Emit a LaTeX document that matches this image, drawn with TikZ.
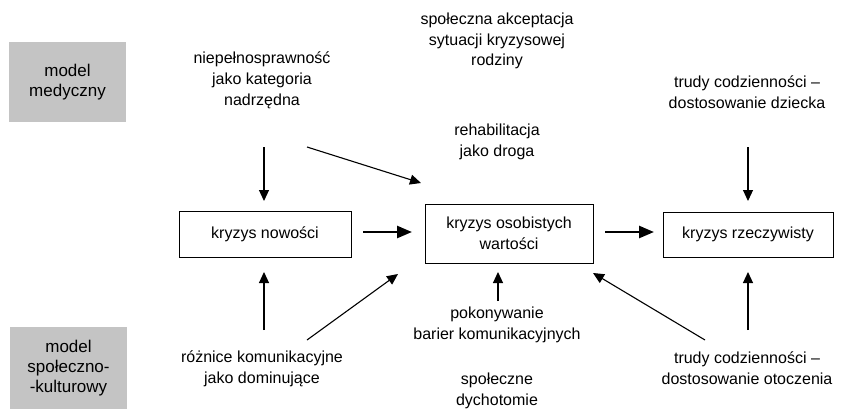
\documentclass[tikz,border=0pt]{standalone}
\usepackage{fontspec}
\setmainfont{Liberation Sans}
\usetikzlibrary{arrows.meta}
\definecolor{modelgray}{HTML}{C4C4C4}
\tikzset{
  lbl/.style={align=center,font=\fontsize{16}{20.8}\selectfont,inner sep=0pt},
  crisis/.style={draw=black,line width=0.9pt,fill=white,align=center,font=\fontsize{16}{20.8}\selectfont,inner sep=0pt},
  model/.style={fill=modelgray,align=center,font=\fontsize{17}{19.8}\selectfont,inner sep=0pt},
  thin arrow/.style={line width=1.1pt,-{Triangle[length=11pt,width=10pt]}},
  thick arrow/.style={line width=2.5pt,-{Triangle[length=15pt,width=12pt]}}
}
\begin{document}
\begin{tikzpicture}[x=1pt,y=-1pt]
\useasboundingbox (0,0) rectangle (841,408);
% model boxes
\node[model,minimum width=117pt,minimum height=80pt] (mmed) at (67.5,82) {model\\medyczny};
\node[model,minimum width=117pt,minimum height=82pt] (mspol) at (68.5,368) {model\\społeczno-\\-kulturowy};
% crisis boxes
\node[crisis,minimum width=172pt,minimum height=46pt] (know) at (265,234) {kryzys nowości};
\node[crisis,minimum width=168pt,minimum height=59pt] (kosob) at (509,233.5) {kryzys osobistych\\wartości};
\node[crisis,minimum width=170pt,minimum height=45pt] (krzecz) at (748,234.5) {kryzys rzeczywisty};
% labels
\node[lbl] (niep) at (262,80) {niepełnosprawność\\jako kategoria\\nadrzędna};
\node[lbl] (akc) at (497,41) {społeczna akceptacja\\sytuacji kryzysowej\\rodziny};
\node[lbl] (reh) at (497,142) {rehabilitacja\\jako droga};
\node[lbl] (trd) at (747,92) {trudy codzienności –\\dostosowanie dziecka};
\node[lbl] (pok) at (497,325) {pokonywanie\\barier komunikacyjnych};
\node[lbl] (dych) at (497,390.5) {społeczne\\dychotomie};
\node[lbl] (roz) at (262,368.5) {różnice komunikacyjne\\jako dominujące};
\node[lbl] (tro) at (747,368.5) {trudy codzienności –\\dostosowanie otoczenia};
% arrow end points
\coordinate (a1s) at (264,147); \coordinate (a1e) at (264,201);
\coordinate (a2s) at (307,147); \coordinate (a2e) at (421,183);
\coordinate (a3s) at (748,147); \coordinate (a3e) at (748,201);
\coordinate (a4s) at (264,330); \coordinate (a4e) at (264,272);
\coordinate (a5s) at (307,340); \coordinate (a5e) at (398,274);
\coordinate (a6s) at (498,301); \coordinate (a6e) at (498,272);
\coordinate (a7s) at (705,340); \coordinate (a7e) at (593,273);
\coordinate (a8s) at (748,330); \coordinate (a8e) at (748,272);
\coordinate (a9s) at (363,232); \coordinate (a9e) at (412,232);
\coordinate (a10s) at (605,232); \coordinate (a10e) at (654,232);
\draw[thin arrow] (a1s) -- (a1e);
\draw[thin arrow] (a2s) -- (a2e);
\draw[thin arrow] (a3s) -- (a3e);
\draw[thin arrow] (a4s) -- (a4e);
\draw[thin arrow] (a5s) -- (a5e);
\draw[thin arrow] (a6s) -- (a6e);
\draw[thin arrow] (a7s) -- (a7e);
\draw[thin arrow] (a8s) -- (a8e);
\draw[thick arrow] (a9s) -- (a9e);
\draw[thick arrow] (a10s) -- (a10e);
\end{tikzpicture}
\end{document}
